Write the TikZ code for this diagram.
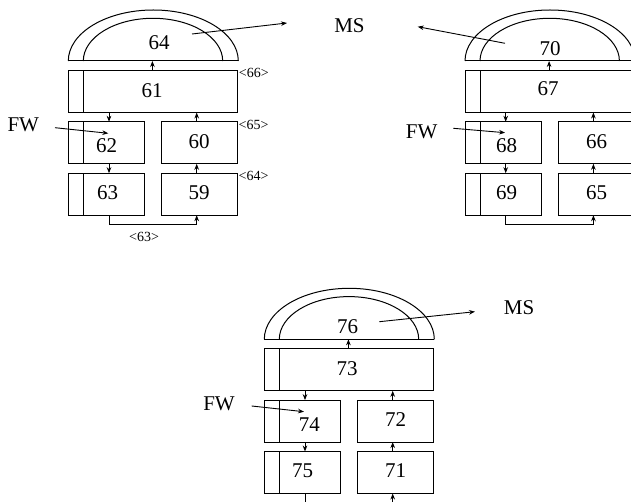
\documentclass[tikz,border=0pt]{standalone}
\usepackage{fontspec}
\setmainfont{Liberation Serif}
\usetikzlibrary{arrows.meta}
\begin{document}
\begin{tikzpicture}[x=1pt,y=1pt,
  line width=1pt,
  box/.style={draw, rectangle, inner sep=0pt, outer sep=0pt, minimum height=42pt},
  sbox/.style={box, minimum width=76pt},
  wbox/.style={box, minimum width=169.6pt},
  num/.style={inner sep=0pt, font=\fontsize{21}{25}\selectfont},
  tag/.style={inner sep=0.5pt, anchor=north west, font=\fontsize{14}{16}\selectfont},
  arr/.style={-{Stealth[length=6pt,width=4.6pt]}, line width=0.9pt}]
\useasboundingbox (0,0) rectangle (631,501);
\clip (0,0) rectangle (631,501);

% ---------- three identical blocks ----------
\foreach \s/\dx/\dy in {L/0/0, R/396.7/0, B/196/-278.3}{
  \begin{scope}[shift={(\dx,\dy)}]
    \draw (68.3,440) arc[start angle=180,end angle=0,x radius=85,y radius=51];
    \draw (83.3,440) arc[start angle=180,end angle=0,x radius=69.7,y radius=42.7];
    \draw (68.3,440) -- (238.3,440);
    \coordinate (d\s) at (152.4,440);
    \node[wbox] (a\s) at (153.1,409.5) {};
    \node[sbox] (b\s) at (106.3,358.2) {};
    \node[sbox] (c\s) at (199.7,358.2) {};
    \node[sbox] (e\s) at (106.3,306.8) {};
    \node[sbox] (f\s) at (199.7,306.8) {};
    \draw ([xshift=15pt]a\s.north west) -- ([xshift=15pt]a\s.south west);
    \draw ([xshift=15pt]b\s.north west) -- ([xshift=15pt]b\s.south west);
    \draw ([xshift=15pt]e\s.north west) -- ([xshift=15pt]e\s.south west);
    \draw[arr] (a\s.north -| d\s) -- (d\s);
    \draw[arr] ([xshift=2.7pt]b\s.north |- a\s.south) -- ([xshift=2.7pt]b\s.north);
    \draw[arr] ([xshift=-3pt]c\s.north) -- ([xshift=-3pt]c\s.north |- a\s.south);
    \draw[arr] ([xshift=2.7pt]b\s.south) -- ([xshift=2.7pt]e\s.north);
    \draw[arr] ([xshift=-3pt]f\s.north) -- ([xshift=-3pt]c\s.south);
    \draw[arr] ([xshift=2.7pt]e\s.south) -- ++(0,-9.1) -| ([xshift=-3pt]f\s.south);
  \end{scope}
}

% ---------- numbers ----------
\node[num] (t64) at (159,458) {64};
\node[num] (t61) at (152,410) {61};
\node[num] (t62) at (106.7,355.3) {62};
\node[num] (t60) at (199,359.3) {60};
\node[num] (t63) at (107.7,308.3) {63};
\node[num] (t59) at (199,308.3) {59};

\node[num] (t70) at (550,452.7) {70};
\node[num] (t67) at (548,412) {67};
\node[num] (t68) at (506.7,355.3) {68};
\node[num] (t66) at (596.7,359.3) {66};
\node[num] (t69) at (506.7,308.7) {69};
\node[num] (t65) at (596.7,308.7) {65};

\node[num] (t76) at (347.7,174.3) {76};
\node[num] (t73) at (347,132.7) {73};
\node[num] (t74) at (309.3,76.7) {74};
\node[num] (t72) at (395.7,81) {72};
\node[num] (t75) at (302.7,30.3) {75};
\node[num] (t71) at (395.7,30.3) {71};

% ---------- tags ----------
\node[tag] (g66) at ([yshift=3pt]aL.north east) {<66>};
\node[tag] (g65) at ([yshift=3pt]cL.north east) {<65>};
\node[tag] (g64) at ([yshift=3pt]fL.north east) {<64>};
\node[inner sep=0pt, font=\fontsize{14}{16}\selectfont] (g63) at (144,264.3) {<63>};

% ---------- FW / MS ----------
\node[num] (fwL) at (23.3,376) {FW};
\coordinate (fwLs) at (55,373.3);
\coordinate (fwLe) at (108.3,367.7);
\draw[arr] (fwLs) -- (fwLe);

\node[num] (fwR) at (421.7,369) {FW};
\coordinate (fwRs) at (453.3,372.7);
\coordinate (fwRe) at (505,368.3);
\draw[arr] (fwRs) -- (fwRe);

\node[num] (fwB) at (219,97.7) {FW};
\coordinate (fwBs) at (251.7,95);
\coordinate (fwBe) at (304,89.3);
\draw[arr] (fwBs) -- (fwBe);

\node[num] (ms1) at (349.5,475.2) {MS};
\coordinate (msLs) at (192,467);
\coordinate (msLe) at (287,478);
\draw[arr] (msLs) -- (msLe);
\coordinate (msRs) at (505,457.7);
\coordinate (msRe) at (417.7,474.3);
\draw[arr] (msRs) -- (msRe);

\node[num] (ms2) at (519,193) {MS};
\coordinate (msBs) at (379.3,179.3);
\coordinate (msBe) at (475,189.3);
\draw[arr] (msBs) -- (msBe);
\end{tikzpicture}
\end{document}
